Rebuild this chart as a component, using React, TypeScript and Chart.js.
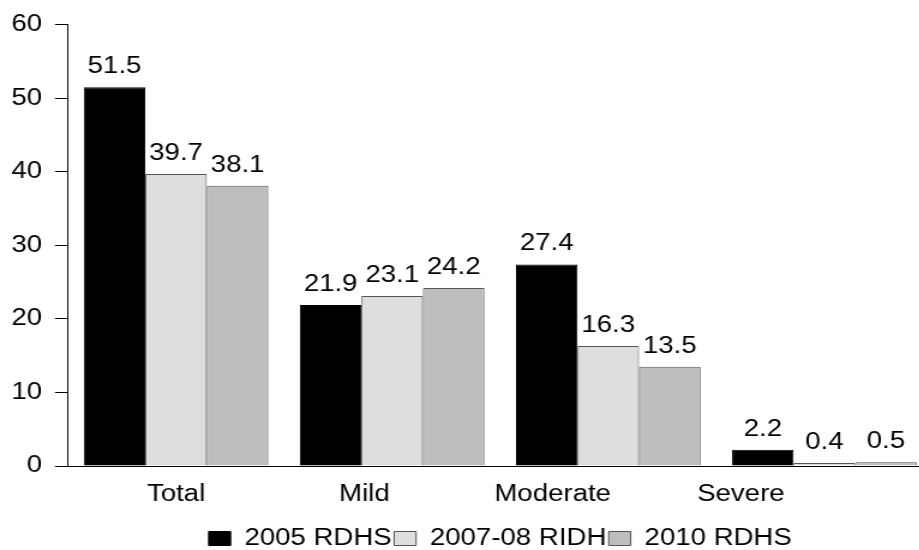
import React, { useEffect, useRef } from 'react';
import { Chart, registerables } from 'chart.js';

Chart.register(...registerables);

// ---- data ----
const categories = ['Total', 'Mild', 'Moderate', 'Severe'];
const seriesNames = ['2005 RDHS', '2007-08 RIDH', '2010 RDHS'];
const rdhs2005 = [51.5, 21.9, 27.4, 2.2];
const ridh2007 = [39.7, 23.1, 16.3, 0.4];
const rdhs2010 = [38.1, 24.2, 13.5, 0.5];
const yTicks = [0, 10, 20, 30, 40, 50, 60];

// ---- layout / style ----
const SX = 1.2; // horizontal stretch of the original picture
const W = 777;
const H = 550;
const FONT_FAMILY = "'Liberation Sans', Arial, Helvetica, sans-serif";
const FONT_SIZE = 23;
const FONT = { family: FONT_FAMILY, size: FONT_SIZE };
const PLOT_LEFT = 68 / SX;
const PLOT_RIGHT = 932 / SX;
const LABEL_FIRST = 176 / SX;
const LABEL_STEP = 188.2 / SX;
const X2_MIN = -(LABEL_FIRST - PLOT_LEFT) / LABEL_STEP;
const X2_MAX = X2_MIN + (PLOT_RIGHT - PLOT_LEFT) / LABEL_STEP;
const LEG_PAD = 2;
const PAD_BOTTOM = -10;
const LEG_H = FONT_SIZE + LEG_PAD + 10;
const X2_H = H - PAD_BOTTOM - LEG_H - 467;

const colors = ['#000000', '#dedede', '#bebebe'];
const borders = ['#000000', '#555555', '#555555'];

const valueLabels = {
  id: 'valueLabels',
  afterDatasetsDraw(chart: any) {
    const ctx = chart.ctx;
    ctx.save();
    ctx.font = `${FONT_SIZE}px ${FONT_FAMILY}`;
    ctx.fillStyle = '#000';
    ctx.textAlign = 'center';
    ctx.textBaseline = 'alphabetic';
    chart.data.datasets.forEach((ds: any, di: number) => {
      const meta = chart.getDatasetMeta(di);
      meta.data.forEach((bar: any, i: number) => {
        ctx.fillText(Number(ds.data[i]).toFixed(1), bar.x, bar.y - 14);
      });
    });
    ctx.restore();
  },
};

export default function App() {
  const ref = useRef<HTMLCanvasElement | null>(null);

  useEffect(() => {
    if (!ref.current) return;
    const series = [rdhs2005, ridh2007, rdhs2010];
    const chart = new Chart(ref.current, {
      type: 'bar',
      data: {
        labels: categories,
        datasets: series.map((d, i) => ({
          label: seriesNames[i],
          data: d,
          backgroundColor: colors[i],
          borderColor: borders[i],
          borderWidth: 1,
          categoryPercentage: 0.854,
          barPercentage: 1,
          xAxisID: 'x',
          yAxisID: 'y',
        })),
      },
      options: {
        animation: false,
        responsive: false,
        devicePixelRatio: 1,
        layout: { padding: { top: 24, left: 0, right: 0, bottom: PAD_BOTTOM } },
        plugins: {
          tooltip: { enabled: false },
          legend: {
            position: 'bottom',
            fullSize: false,
            labels: {
              font: FONT,
              color: '#000',
              boxWidth: 22 / SX,
              boxHeight: 14,
              padding: LEG_PAD,
            },
          },
        },
        scales: {
          x: {
            type: 'category',
            position: 'bottom',
            weight: 0,
            grid: { display: false },
            border: { display: true, color: '#000', width: 1 },
            ticks: { display: false },
            afterFit: (s: any) => { s.height = 1; },
          },
          x2: {
            type: 'linear',
            axis: 'x',
            position: 'bottom',
            weight: 1,
            offset: false,
            min: X2_MIN,
            max: X2_MAX,
            grid: { display: false, offset: false },
            border: { display: false },
            ticks: {
              font: FONT,
              color: '#000',
              padding: 6,
              autoSkip: false,
              maxRotation: 0,
              callback: (v: any) => categories[Math.round(Number(v))] ?? '',
            },
            afterBuildTicks: (s: any) => {
              s.ticks = categories.map((_, i) => ({ value: i }));
            },
            afterFit: (s: any) => { s.height = X2_H; },
          },
          y: {
            type: 'linear',
            position: 'left',
            min: yTicks[0],
            max: yTicks[yTicks.length - 1],
            grid: {
              display: true,
              drawOnChartArea: false,
              drawTicks: true,
              tickLength: 13 / SX,
              color: '#000',
            },
            border: { display: true, color: '#000', width: 1 },
            ticks: {
              font: FONT,
              color: '#000',
              padding: 13 / SX,
              stepSize: yTicks[1] - yTicks[0],
            },
            afterBuildTicks: (s: any) => {
              s.ticks = yTicks.map((v) => ({ value: v }));
            },
            afterFit: (s: any) => { s.width = PLOT_LEFT; },
          },
        },
      },
      plugins: [valueLabels],
    } as any);
    return () => chart.destroy();
  }, []);

  return (
    <div style={{ position: 'fixed', left: 0, top: 0, width: 919, height: 550, overflow: 'hidden', background: '#fff' }}>
      <div style={{ width: W, height: H, transform: `scaleX(${SX})`, transformOrigin: '0 0' }}>
        <canvas ref={ref} width={W} height={H} style={{ display: 'block' }} />
      </div>
    </div>
  );
}
